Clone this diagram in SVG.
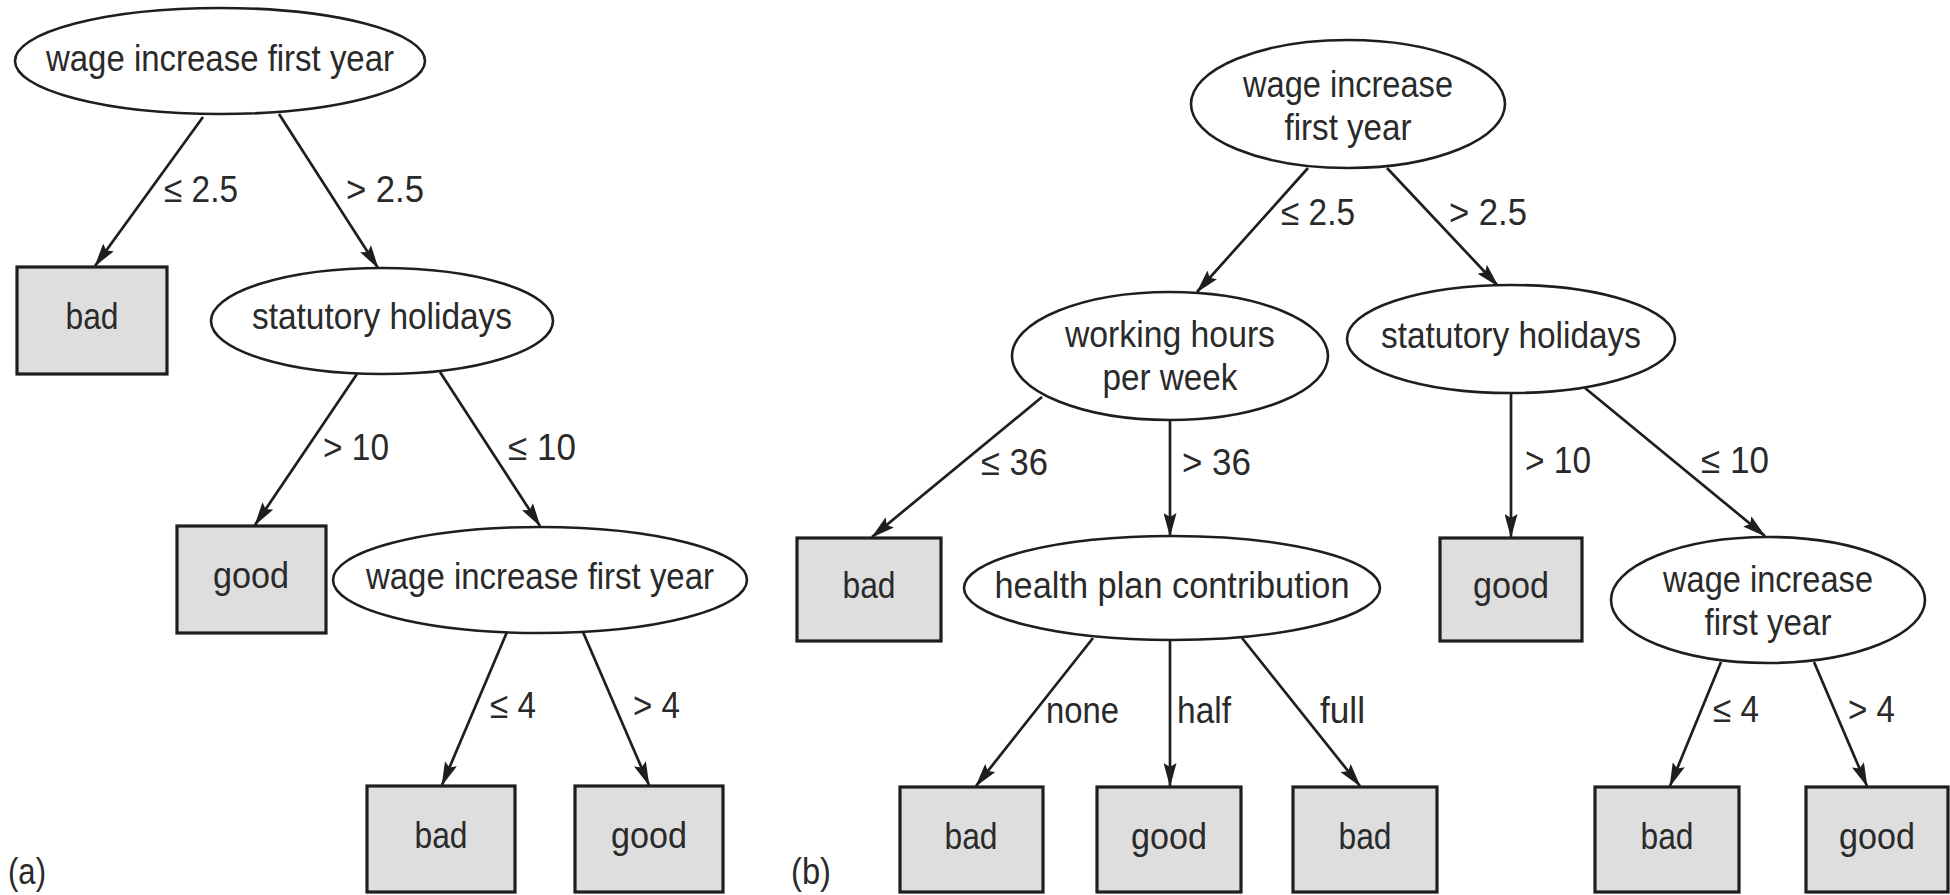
<svg xmlns="http://www.w3.org/2000/svg" width="1950" height="895" viewBox="0 0 1950 895">
<defs>
<marker id="arr" markerUnits="userSpaceOnUse" markerWidth="24" markerHeight="13" refX="23" refY="6.5" orient="auto">
<path d="M0,0 L24,6.5 L0,13 L4,6.5 z" fill="#1e1e1e"/>
</marker>
<style>
.n ellipse{fill:#fff;stroke:#1e1e1e;stroke-width:2.6}
.n rect{fill:#dedede;stroke:#1e1e1e;stroke-width:3.2}
text{font-family:"Liberation Sans",Arial,sans-serif;font-size:37px;fill:#2a2a2a}
.n text{text-anchor:middle}
#edges line{stroke:#1e1e1e;stroke-width:2.7;marker-end:url(#arr)}
</style>
</defs>
<rect width="1950" height="895" fill="#fff"/>
<g id="edges">
<line x1="203" y1="117" x2="95" y2="266"/>
<line x1="279" y1="114" x2="378" y2="268"/>
<line x1="357" y1="374" x2="255" y2="525"/>
<line x1="440" y1="372" x2="540" y2="526"/>
<line x1="507" y1="632" x2="442" y2="785"/>
<line x1="583" y1="632" x2="649" y2="785"/>
<line x1="1308" y1="168" x2="1197" y2="292"/>
<line x1="1387" y1="168" x2="1498" y2="286"/>
<line x1="1042" y1="397" x2="872" y2="537"/>
<line x1="1170" y1="420" x2="1170" y2="536"/>
<line x1="1093" y1="638" x2="976" y2="786"/>
<line x1="1170" y1="640" x2="1170" y2="786"/>
<line x1="1242" y1="638" x2="1360" y2="786"/>
<line x1="1511" y1="393" x2="1511" y2="537"/>
<line x1="1585" y1="388" x2="1765" y2="536"/>
<line x1="1721" y1="662" x2="1670" y2="786"/>
<line x1="1814" y1="662" x2="1867" y2="786"/>
<text x="164" y="202" textLength="74" lengthAdjust="spacingAndGlyphs">≤ 2.5</text>
<text x="346" y="202" textLength="78" lengthAdjust="spacingAndGlyphs">&gt; 2.5</text>
<text x="323" y="460" textLength="66" lengthAdjust="spacingAndGlyphs">&gt; 10</text>
<text x="508" y="460" textLength="68" lengthAdjust="spacingAndGlyphs">≤ 10</text>
<text x="490" y="718" textLength="46" lengthAdjust="spacingAndGlyphs">≤ 4</text>
<text x="633" y="718" textLength="47" lengthAdjust="spacingAndGlyphs">&gt; 4</text>
<text x="1281" y="225" textLength="74" lengthAdjust="spacingAndGlyphs">≤ 2.5</text>
<text x="1449" y="225" textLength="78" lengthAdjust="spacingAndGlyphs">&gt; 2.5</text>
<text x="981" y="475" textLength="67" lengthAdjust="spacingAndGlyphs">≤ 36</text>
<text x="1182" y="475" textLength="69" lengthAdjust="spacingAndGlyphs">&gt; 36</text>
<text x="1046" y="723" textLength="73" lengthAdjust="spacingAndGlyphs">none</text>
<text x="1177" y="723" textLength="54" lengthAdjust="spacingAndGlyphs">half</text>
<text x="1320" y="723" textLength="45" lengthAdjust="spacingAndGlyphs">full</text>
<text x="1525" y="473" textLength="66" lengthAdjust="spacingAndGlyphs">&gt; 10</text>
<text x="1701" y="473" textLength="68" lengthAdjust="spacingAndGlyphs">≤ 10</text>
<text x="1713" y="722" textLength="46" lengthAdjust="spacingAndGlyphs">≤ 4</text>
<text x="1848" y="722" textLength="47" lengthAdjust="spacingAndGlyphs">&gt; 4</text>
</g>
<g id="a_root" class="n"><ellipse cx="220" cy="61" rx="205" ry="53"/><text x="220" y="71" textLength="348" lengthAdjust="spacingAndGlyphs">wage increase first year</text></g>
<g id="a_bad1" class="n"><rect x="17" y="267" width="150" height="107"/><text x="92" y="329" textLength="53" lengthAdjust="spacingAndGlyphs">bad</text></g>
<g id="a_stat" class="n"><ellipse cx="382" cy="321" rx="171" ry="53"/><text x="382" y="329" textLength="260" lengthAdjust="spacingAndGlyphs">statutory holidays</text></g>
<g id="a_good1" class="n"><rect x="177" y="526" width="149" height="107"/><text x="251" y="588" textLength="76" lengthAdjust="spacingAndGlyphs">good</text></g>
<g id="a_wage" class="n"><ellipse cx="540" cy="580" rx="207" ry="53"/><text x="540" y="589" textLength="348" lengthAdjust="spacingAndGlyphs">wage increase first year</text></g>
<g id="a_bad2" class="n"><rect x="367" y="786" width="148" height="106"/><text x="441" y="848" textLength="53" lengthAdjust="spacingAndGlyphs">bad</text></g>
<g id="a_good2" class="n"><rect x="575" y="786" width="148" height="106"/><text x="649" y="848" textLength="76" lengthAdjust="spacingAndGlyphs">good</text></g>
<g id="b_root" class="n"><ellipse cx="1348" cy="104" rx="157" ry="64"/><text x="1348" y="97" textLength="210" lengthAdjust="spacingAndGlyphs">wage increase</text><text x="1348" y="140" textLength="127" lengthAdjust="spacingAndGlyphs">first year</text></g>
<g id="b_work" class="n"><ellipse cx="1170" cy="356" rx="158" ry="64"/><text x="1170" y="347" textLength="210" lengthAdjust="spacingAndGlyphs">working hours</text><text x="1170" y="390" textLength="135" lengthAdjust="spacingAndGlyphs">per week</text></g>
<g id="b_bad1" class="n"><rect x="797" y="538" width="144" height="103"/><text x="869" y="598" textLength="53" lengthAdjust="spacingAndGlyphs">bad</text></g>
<g id="b_health" class="n"><ellipse cx="1172" cy="588" rx="208" ry="52"/><text x="1172" y="598" textLength="355" lengthAdjust="spacingAndGlyphs">health plan contribution</text></g>
<g id="b_bad2" class="n"><rect x="900" y="787" width="143" height="105"/><text x="971" y="849" textLength="53" lengthAdjust="spacingAndGlyphs">bad</text></g>
<g id="b_good2" class="n"><rect x="1097" y="787" width="144" height="105"/><text x="1169" y="849" textLength="76" lengthAdjust="spacingAndGlyphs">good</text></g>
<g id="b_bad3" class="n"><rect x="1293" y="787" width="144" height="105"/><text x="1365" y="849" textLength="53" lengthAdjust="spacingAndGlyphs">bad</text></g>
<g id="b_stat" class="n"><ellipse cx="1511" cy="339" rx="164" ry="54"/><text x="1511" y="348" textLength="260" lengthAdjust="spacingAndGlyphs">statutory holidays</text></g>
<g id="b_good1" class="n"><rect x="1440" y="538" width="142" height="103"/><text x="1511" y="598" textLength="76" lengthAdjust="spacingAndGlyphs">good</text></g>
<g id="b_wage" class="n"><ellipse cx="1768" cy="600" rx="157" ry="63"/><text x="1768" y="592" textLength="210" lengthAdjust="spacingAndGlyphs">wage increase</text><text x="1768" y="635" textLength="127" lengthAdjust="spacingAndGlyphs">first year</text></g>
<g id="b_bad4" class="n"><rect x="1595" y="787" width="144" height="105"/><text x="1667" y="849" textLength="53" lengthAdjust="spacingAndGlyphs">bad</text></g>
<g id="b_good4" class="n"><rect x="1806" y="787" width="142" height="105"/><text x="1877" y="849" textLength="76" lengthAdjust="spacingAndGlyphs">good</text></g>
<text x="8" y="884" textLength="38" lengthAdjust="spacingAndGlyphs">(a)</text>
<text x="791" y="884" textLength="40" lengthAdjust="spacingAndGlyphs">(b)</text>
</svg>
